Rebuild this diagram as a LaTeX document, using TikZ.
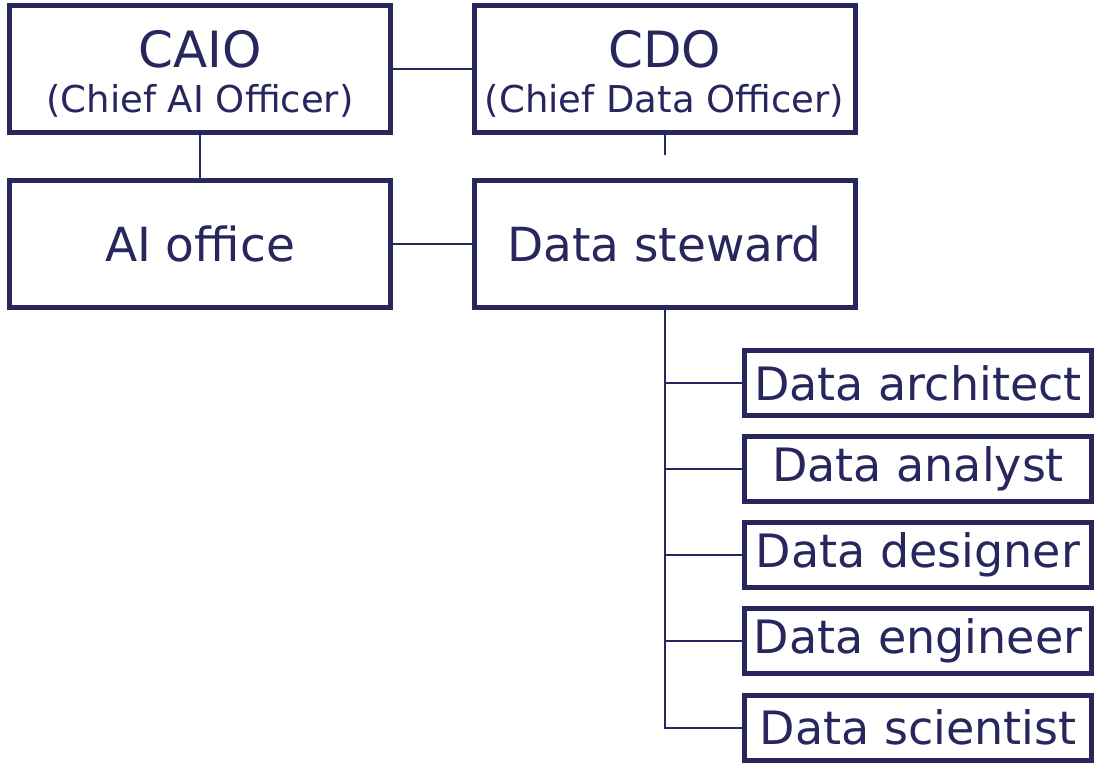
\documentclass[tikz,border=0pt]{standalone}
\usepackage{fontspec}
\setmainfont{DejaVu Sans}
\definecolor{navy}{HTML}{27275E}
\begin{document}
\begin{tikzpicture}[x=1pt,y=-1pt,
  bigbox/.style={draw=navy,line width=5pt,minimum width=381pt,minimum height=127pt,inner sep=0pt,text=navy,align=center},
  smallbox/.style={draw=navy,line width=5pt,minimum width=347pt,minimum height=65pt,inner sep=0pt,text=navy,font=\fontsize{46}{50}\selectfont},
  conn/.style={draw=navy,line width=2pt}]
\useasboundingbox (0,0) rectangle (1102,771);
\node[bigbox] (caio) at (200,69) {};
\node[text=navy,font=\fontsize{50}{54}\selectfont] (caiot) at (200,49) {CAIO};
\node[text=navy,font=\fontsize{37}{42}\selectfont] (caios) at (200,101) {(Chief AI Officer)};
\node[bigbox] (cdo) at (664.5,69) {};
\node[text=navy,font=\fontsize{50}{54}\selectfont] (cdot) at (664.5,49) {CDO};
\node[text=navy,font=\fontsize{37}{42}\selectfont] (cdos) at (664.5,101) {(Chief Data Officer)};
\node[bigbox,font=\fontsize{47}{52}\selectfont] (ai) at (200,244) {AI office};
\node[bigbox,font=\fontsize{47}{52}\selectfont] (ds) at (664.5,244) {Data steward};
\node[smallbox] (d1) at (918,383) {Data architect};
\node[smallbox] (d2) at (918,469) {Data analyst};
\node[smallbox] (d3) at (918,555) {Data designer};
\node[smallbox] (d4) at (918,641) {Data engineer};
\node[smallbox] (d5) at (918,727.5) {Data scientist};
\coordinate (stub) at (664.5,155);
\draw[conn] (caio.east) -- (cdo.west);
\draw[conn] (caio.south) -- (ai.north);
\draw[conn] (cdo.south) -- (stub);
\draw[conn] (ai.east) -- (ds.west);
\draw[conn] (ds.south) -- (ds.south |- d5.west) -- (d5.west);
\foreach \n in {d1,d2,d3,d4} {\draw[conn] (ds.south |- \n.west) -- (\n.west);}
\end{tikzpicture}
\end{document}
